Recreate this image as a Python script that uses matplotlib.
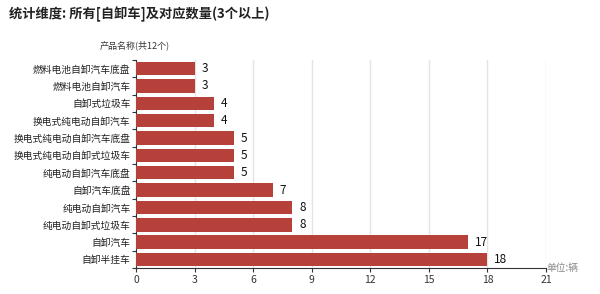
import matplotlib
matplotlib.use("Agg")
import matplotlib.pyplot as plt
import numpy as np

plt.rcParams['font.family'] = ['Noto Sans CJK SC', 'DejaVu Sans']

categories = ["燃料电池自卸汽车底盘", "燃料电池自卸汽车", "自卸式垃圾车", "换电式纯电动自卸汽车",
              "换电式纯电动自卸汽车底盘", "换电式纯电动自卸式垃圾车", "纯电动自卸汽车底盘",
              "自卸汽车底盘", "纯电动自卸汽车", "纯电动自卸式垃圾车", "自卸汽车", "自卸半挂车"]
values = [3, 3, 4, 4, 5, 5, 5, 7, 8, 8, 17, 18]
xticks = [0, 3, 6, 9, 12, 15, 18, 21]

fig = plt.figure(figsize=(6, 2.94), dpi=100)
ax = fig.add_axes([0.2267, 0.088, 0.6833, 0.708])

n = len(categories)
y = np.arange(n)[::-1]
ax.barh(y, values, height=0.78, color='#b5413a', zorder=3)
for yi, v in zip(y, values):
    ax.text(v + 0.35, yi, str(v), va='center', ha='left', fontsize=8.5, color='#111111', zorder=4)

ax.set_ylim(-0.5, n - 0.5)
ax.set_xlim(0, 21)
ax.set_yticks(y)
ax.set_yticklabels(categories, fontsize=7, color='#222222')
ax.tick_params(axis='y', length=0, pad=4)
ax.set_yticks(np.arange(-0.5, n, 1), minor=True)
ax.tick_params(axis='y', which='minor', length=3, color='#333333', width=0.8)
ax.set_xticks(xticks)
ax.set_xticklabels([str(t) for t in xticks], fontsize=7.5, color='#333333')
ax.tick_params(axis='x', length=3, color='#333333', width=0.8, pad=2)
ax.grid(axis='x', color='#e4e4e4', linewidth=1, zorder=0)
for s in ['top', 'right']:
    ax.spines[s].set_visible(False)
ax.spines['left'].set_color('#333333')
ax.spines['bottom'].set_color('#333333')

fig.text(0.015, 0.95, "统计维度: 所有[自卸车]及对应数量(3个以上)", fontsize=9.5,
         fontweight='bold', color='#222222', va='center', ha='left')
fig.text(0.225, 0.845, "产品名称(共12个)", fontsize=6.5, color='#333333', va='center', ha='center')
fig.text(0.91, 0.09, "单位:辆", fontsize=7, color='#888888', va='center', ha='left')

fig.savefig("out.png", dpi=100)
